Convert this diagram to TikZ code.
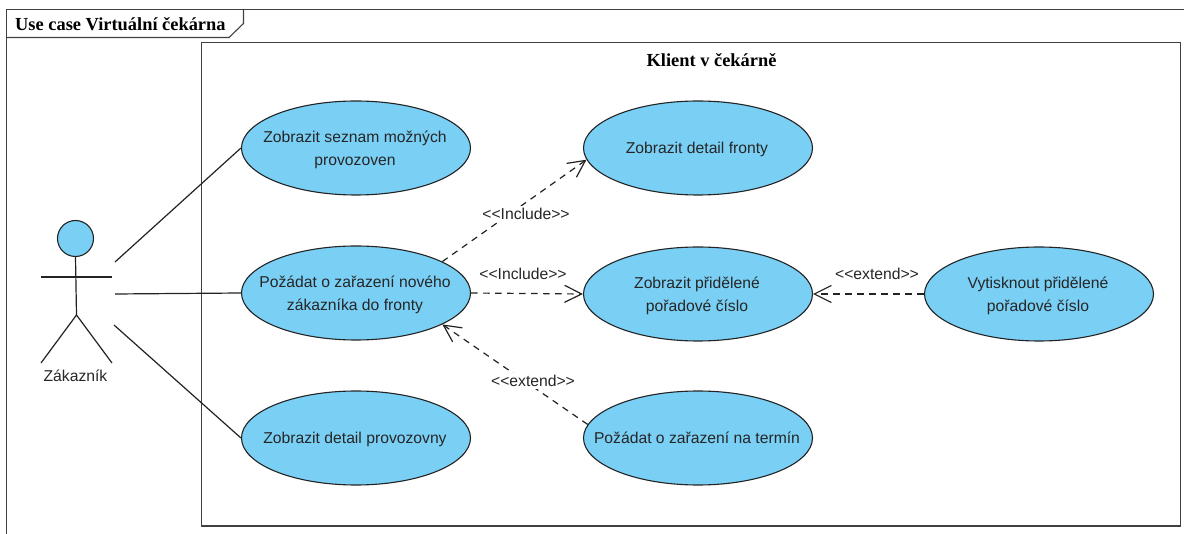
\documentclass[tikz,border=0pt]{standalone}
\usepackage{fontspec}
\setmainfont{Liberation Sans}
\newfontfamily\titlefont{Liberation Serif}
\usetikzlibrary{arrows.meta,shapes.geometric}
\definecolor{ucblue}{RGB}{122,207,245}
\definecolor{ucline}{RGB}{35,35,35}
\newcommand{\uclabel}[1]{\raisebox{0pt}[\dimexpr\height+2pt\relax][\depth]{\makebox[0pt][c]{\begin{tabular}{@{}c@{}}#1\end{tabular}}\kern2pt}}
\tikzset{
  x=1pt,y=-1pt,
  usecase/.style={ellipse,draw=ucline,fill=ucblue,line width=1.1pt,minimum width=229pt,minimum height=94pt,inner sep=0pt,font=\fontsize{15.7}{23}\selectfont,text=black!85},
  assoc/.style={draw=ucline,line width=1.2pt},
  dep/.style={draw=ucline,line width=1.2pt,dash pattern=on 6.5pt off 5.5pt,-{Straight Barb[length=17pt,width=17pt,line width=1.2pt]}},
  deplabel/.style={font=\fontsize{15.7}{18}\selectfont,text=black!85,inner sep=0pt},
  framebox/.style={draw=black!75,line width=1.1pt},
  boxtitle/.style={inner sep=0pt,font=\titlefont\bfseries\fontsize{18.4}{20}\selectfont},
}
\begin{document}
\begin{tikzpicture}
\useasboundingbox (0,0) rectangle (1184,534);
\fill[white] (0,0) rectangle (1184,534);
% outer frame
\draw[framebox] (6.5,534) -- (6.5,9.5) -- (1184,9.5);
\draw[framebox] (6.5,37.5) -- (229,37.5) -- (243.5,23.5) -- (243.5,9.5);
\node[boxtitle,anchor=west] (frametitle) at (15,24) {Use case Virtuální čekárna};
% system boundary
\draw[framebox] (201.5,42.5) rectangle (1180.5,526);
\node[boxtitle] (systitle) at (711.5,60) {Klient v čekárně};
% actor
\node[circle,draw=ucline,fill=ucblue,line width=1.1pt,minimum size=36pt,inner sep=0pt] (head) at (75.5,238.5) {};
\coordinate (hip) at (76.5,315);
\coordinate (armL) at (41,277);
\coordinate (armR) at (112,277);
\coordinate (footL) at (41,363);
\coordinate (footR) at (112,363);
\draw[assoc] (head.south) -- (hip);
\draw[assoc] (armL) -- (armR);
\draw[assoc] (footL) -- (hip) -- (footR);
\node[deplabel] (actor) at (75.5,376) {Zákazník};
% use cases
\node[usecase] (u1) at (356,148) {\uclabel{Zobrazit seznam možných\\provozoven}};
\node[usecase] (u2) at (356,293) {\uclabel{Požádat o zařazení nového\\zákazníka do fronty}};
\node[usecase] (u3) at (356,438) {\uclabel{Zobrazit detail provozovny}};
\node[usecase] (u4) at (698,148) {\uclabel{Zobrazit detail fronty}};
\node[usecase] (u5) at (698,294) {\uclabel{Zobrazit přidělené\\pořadové číslo}};
\node[usecase] (u6) at (698,438) {\uclabel{Požádat o zařazení na termín}};
\node[usecase] (u7) at (1039,294) {\uclabel{Vytisknout přidělené\\pořadové číslo}};
% associations
\coordinate (a1) at (115,262);
\coordinate (a2) at (115,294);
\coordinate (a3) at (114,325);
\draw[assoc] (a1) -- (u1.west);
\draw[assoc] (a2) -- (u2.west);
\draw[assoc] (a3) -- (u3.west);
% dependencies
\draw[dep] (u2.20) -- (u4.186.5);
\draw[dep] (u2.east) -- (u5.west);
\draw[dep] (u7.west) -- (u5.east);
\draw[dep] (u6.173.5) -- (u2.340);
\node[deplabel,fill=white,inner sep=2pt] (l1) at (526,214) {<{}<Include>{}>};
\node[deplabel] (l2) at (523,274) {<{}<Include>{}>};
\node[deplabel] (l3) at (877,274) {<{}<extend>{}>};
\node[deplabel,fill=white,inner sep=2pt] (l4) at (533,381) {<{}<extend>{}>};
\end{tikzpicture}
\end{document}
